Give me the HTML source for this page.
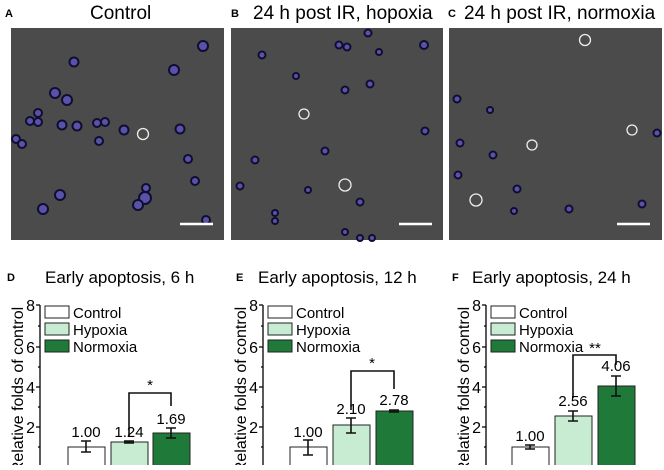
<!DOCTYPE html>
<html><head><meta charset="utf-8"><style>
body{margin:0;background:#fff;width:664px;height:465px;overflow:hidden;font-family:"Liberation Sans",sans-serif}
</style></head><body>
<svg width="664" height="465" xmlns="http://www.w3.org/2000/svg" font-family="Liberation Sans, sans-serif">
<text x="5" y="17" font-size="11" font-weight="bold">A</text>
<text x="90" y="19" font-size="19">Control</text>
<text x="231" y="17" font-size="11" font-weight="bold">B</text>
<text x="253" y="19" font-size="19">24 h post IR, hopoxia</text>
<text x="448" y="17" font-size="11" font-weight="bold">C</text>
<text x="464" y="19" font-size="19">24 h post IR, normoxia</text>
<rect x="11" y="28" width="213" height="212" fill="#4b4b4b"/>
<rect x="231" y="28" width="212" height="212" fill="#4b4b4b"/>
<rect x="449" y="28" width="213" height="212" fill="#4b4b4b"/>
<g fill="#5a52a8" stroke="#100e30" stroke-width="2">
<circle cx="74" cy="62" r="4.5"/><circle cx="203" cy="46" r="5"/><circle cx="174" cy="70" r="5"/><circle cx="55" cy="93" r="5"/><circle cx="67" cy="100" r="5"/>
<circle cx="38" cy="113" r="4"/><circle cx="30" cy="121" r="4"/><circle cx="38" cy="122" r="4"/><circle cx="62" cy="125" r="4.5"/><circle cx="77" cy="126" r="4.5"/>
<circle cx="97" cy="123" r="4"/><circle cx="105" cy="122" r="4"/><circle cx="124" cy="130" r="4.5"/><circle cx="180" cy="129" r="4.5"/><circle cx="16" cy="139" r="4"/>
<circle cx="22" cy="144" r="4"/><circle cx="99" cy="141" r="4"/><circle cx="188" cy="159" r="4"/><circle cx="195" cy="181" r="4"/><circle cx="146" cy="188" r="4"/>
<circle cx="145" cy="198" r="6"/><circle cx="138" cy="205" r="5"/><circle cx="60" cy="195" r="5"/><circle cx="43" cy="209" r="5"/><circle cx="206" cy="220" r="4"/>
<circle cx="262" cy="55" r="3.5"/><circle cx="339" cy="45" r="3.5"/><circle cx="347" cy="47" r="3.5"/><circle cx="368" cy="33" r="3.5"/><circle cx="424" cy="45" r="4"/>
<circle cx="379" cy="52" r="3"/><circle cx="296" cy="76" r="3"/><circle cx="345" cy="90" r="3.5"/><circle cx="370" cy="84" r="3.5"/><circle cx="425" cy="131" r="3.5"/>
<circle cx="325" cy="151" r="3.5"/><circle cx="255" cy="160" r="3.5"/><circle cx="240" cy="186" r="3.5"/><circle cx="308" cy="190" r="3"/><circle cx="360" cy="202" r="3.5"/>
<circle cx="275" cy="213" r="3"/><circle cx="275" cy="221" r="3"/><circle cx="345" cy="232" r="3"/><circle cx="360" cy="238" r="3"/><circle cx="372" cy="238" r="3"/>
<circle cx="457" cy="99" r="3.5"/><circle cx="460" cy="143" r="3.5"/><circle cx="493" cy="155" r="3.5"/><circle cx="458" cy="175" r="3.5"/><circle cx="517" cy="189" r="3.5"/>
<circle cx="514" cy="211" r="3"/><circle cx="569" cy="209" r="3.5"/><circle cx="642" cy="204" r="3.5"/><circle cx="657" cy="133" r="3.5"/><circle cx="490" cy="110" r="3"/>
</g>
<g fill="none" stroke="#eee" stroke-width="1.3">
<circle cx="143" cy="134" r="5.5"/><circle cx="304" cy="114" r="5"/><circle cx="345" cy="185" r="6"/><circle cx="585" cy="40" r="5.5"/><circle cx="532" cy="145" r="5"/><circle cx="632" cy="130" r="5"/><circle cx="476" cy="200" r="6"/>
</g>
<g stroke="#fff" stroke-width="2.5"><line x1="180" y1="224" x2="213" y2="224"/><line x1="399" y1="224" x2="432" y2="224"/><line x1="617" y1="224" x2="650" y2="224"/></g>

<text x="7" y="281" font-size="11" font-weight="bold">D</text>
<text x="45" y="283" font-size="17">Early apoptosis, 6 h</text>
<text x="236" y="281" font-size="11" font-weight="bold">E</text>
<text x="258" y="283" font-size="17">Early apoptosis, 12 h</text>
<text x="452" y="281" font-size="11" font-weight="bold">F</text>
<text x="472" y="283" font-size="17">Early apoptosis, 24 h</text>

<g font-size="14" fill="#000">
<g stroke="#000" stroke-width="1.3" fill="none">
<path d="M40 305V470M36 305H40M36 347H40M36 387H40M36 427H40M38 326H40M38 367H40M38 407H40M38 447H40"/>
<path d="M263 305V470M259 305H263M259 347H263M259 387H263M259 427H263M261 326H263M261 367H263M261 407H263M261 447H263"/>
<path d="M486 305V470M482 305H486M482 347H486M482 387H486M482 427H486M484 326H486M484 367H486M484 407H486M484 447H486"/>
</g>
<g font-size="16" text-anchor="end">
<text x="35" y="311">8</text><text x="35" y="353">6</text><text x="35" y="393">4</text><text x="35" y="433">2</text>
<text x="258" y="311">8</text><text x="258" y="353">6</text><text x="258" y="393">4</text><text x="258" y="433">2</text>
<text x="481" y="311">8</text><text x="481" y="353">6</text><text x="481" y="393">4</text><text x="481" y="433">2</text>
</g>
<g font-size="16" text-anchor="middle">
<text transform="translate(23 390) rotate(-90)">Relative folds of control</text>
<text transform="translate(246 390) rotate(-90)">Relative folds of control</text>
<text transform="translate(469 390) rotate(-90)">Relative folds of control</text>
</g>
<g stroke="#222" stroke-width="1">
<rect x="45" y="306" width="24" height="12" fill="#fff"/><rect x="45" y="323" width="24" height="12" fill="#c8ecd2"/><rect x="45" y="340" width="24" height="12" fill="#1f7a3a"/>
<rect x="268" y="306" width="24" height="12" fill="#fff"/><rect x="268" y="323" width="24" height="12" fill="#c8ecd2"/><rect x="268" y="340" width="24" height="12" fill="#1f7a3a"/>
<rect x="491" y="306" width="24" height="12" fill="#fff"/><rect x="491" y="323" width="24" height="12" fill="#c8ecd2"/><rect x="491" y="340" width="24" height="12" fill="#1f7a3a"/>
</g>
<g font-size="15">
<text x="73" y="318">Control</text><text x="73" y="335">Hypoxia</text><text x="73" y="352">Normoxia</text>
<text x="296" y="318">Control</text><text x="296" y="335">Hypoxia</text><text x="296" y="352">Normoxia</text>
<text x="519" y="318">Control</text><text x="519" y="335">Hypoxia</text><text x="519" y="352">Normoxia</text>
</g>
<g stroke="#222" stroke-width="1">
<rect x="68" y="447" width="37" height="25" fill="#fff"/><rect x="111" y="442" width="37" height="30" fill="#c8ecd2"/><rect x="153" y="433" width="37" height="39" fill="#1f7a3a"/>
<rect x="290" y="447" width="37" height="25" fill="#fff"/><rect x="333" y="425" width="37" height="47" fill="#c8ecd2"/><rect x="376" y="411" width="37" height="61" fill="#1f7a3a"/>
<rect x="512" y="447" width="37" height="25" fill="#fff"/><rect x="555" y="416" width="37" height="56" fill="#c8ecd2"/><rect x="598" y="386" width="37" height="86" fill="#1f7a3a"/>
</g>
<g stroke="#111" stroke-width="1.6" fill="none">
<path d="M86 441V452M81 441H91M81 452H91"/>
<path d="M129 441V443M124 441H134M124 443H134"/>
<path d="M171 428V438M166 428H176M166 438H176"/>
<path d="M129 437V393H171V406"/>
<path d="M308 440V455M303 440H313M303 455H313"/>
<path d="M351 418V433M346 418H356M346 433H356"/>
<path d="M394 410V412M389 410H399M389 412H399"/>
<path d="M351 410V371H394V389"/>
<path d="M530 445V449M525 445H535M525 449H535"/>
<path d="M573 411V421M568 411H578M568 421H578"/>
<path d="M616 376V396M611 376H621M611 396H621"/>
<path d="M573 398V355H616V365"/>
</g>
<g font-size="15" text-anchor="middle">
<text x="86" y="437">1.00</text><text x="129" y="437">1.24</text><text x="171" y="424">1.69</text><text x="150" y="390">*</text>
<text x="308" y="437">1.00</text><text x="351" y="414">2.10</text><text x="394" y="405">2.78</text><text x="372" y="368">*</text>
<text x="530" y="441">1.00</text><text x="573" y="406">2.56</text><text x="616" y="371">4.06</text><text x="595" y="353">**</text>
</g>
</g>
</svg>
</body></html>
